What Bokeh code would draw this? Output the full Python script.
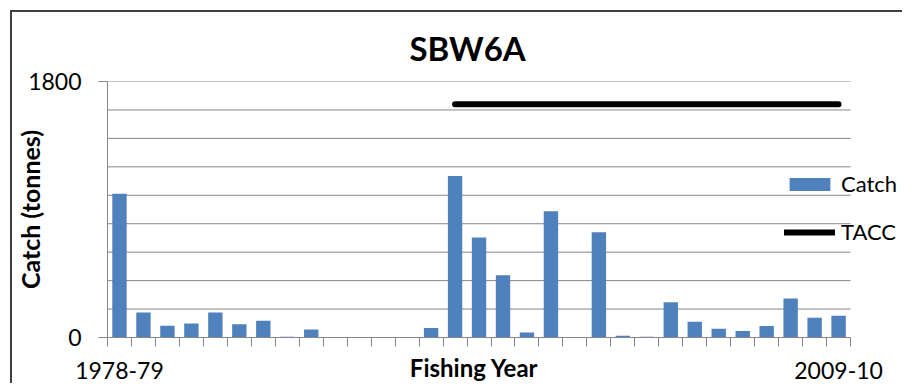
import numpy as np
from bokeh.plotting import figure
from bokeh.models import Range1d, FixedTicker, Legend, LegendItem
from bokeh.embed import file_html
from bokeh.resources import INLINE

# ---- data ----
years = ["1978-79", "1980-81", "1981-82", "1982-83", "1983-84", "1984-85", "1985-86",
         "1986-87", "1987-88", "1988-89", "1989-90", "1990-91", "1991-92", "1992-93",
         "1993-94", "1994-95", "1995-96", "1996-97", "1997-98", "1998-99", "1999-00",
         "2000-01", "2001-02", "2002-03", "2003-04", "2004-05", "2005-06", "2006-07",
         "2007-08", "2008-09", "2009-10"]
catch = [1010, 176, 82, 99, 176, 94, 117, 5, 56, 0, 0, 0, 0, 66,
         1135, 703, 437, 35, 888, 0, 740, 12, 5, 247, 110, 61, 45, 80, 275, 139, 153]
tacc = [np.nan] * 14 + [1640] * 17
grid_values = [200, 400, 600, 800, 1000, 1200, 1400, 1600, 1800]
y_ticks = [0, 1800]
x_label_idx = [0, len(years) - 1]

FONT = "Lato"
GRAY = "#868686"

n = len(years)
xs = list(range(n))

p = figure(width=892, height=373, output_backend="svg", toolbar_location=None,
           x_range=Range1d(-0.5, n - 0.5 + 2.25), y_range=Range1d(0, 1800),
           min_border_left=94, min_border_right=0, min_border_top=69, min_border_bottom=48)
p.styles = {"margin-left": "10px", "margin-top": "10px",
            "border-left": "2px solid #404040", "border-top": "2px solid #404040"}
p.outline_line_color = None
p.background_fill_color = "white"
p.border_fill_color = "white"

p.title.text = "SBW6A"
p.title.text_font = FONT
p.title.text_font_style = "bold"
p.title.text_font_size = "33px"
p.title.align = "left"
p.title.offset = 302
p.title.vertical_align = "middle"
p.title.standoff = 25
p.title.text_color = "black"

# horizontal gridlines limited to the category span
p.segment(x0=-0.5, x1=n - 0.5, y0=grid_values, y1=grid_values, line_color=GRAY, line_width=1)
p.xgrid.grid_line_color = None
p.ygrid.grid_line_color = None

bars = p.vbar(x=xs, top=catch, width=0.6, fill_color="#4F81BD", line_color=None)
tline = p.line(x=xs, y=tacc, line_width=6, line_color="black", line_cap="round")

# y axis
p.yaxis.ticker = FixedTicker(ticks=y_ticks)
p.yaxis.axis_line_color = GRAY
p.yaxis.major_tick_line_color = GRAY
p.yaxis.major_tick_out = 9
p.yaxis.major_tick_in = 0
p.yaxis.minor_tick_line_color = None
p.yaxis.major_label_standoff = 17
p.yaxis.major_label_text_font = FONT
p.yaxis.major_label_text_font_size = "23px"
p.yaxis.major_label_text_color = "black"
p.yaxis.axis_label = "Catch (tonnes)"
p.yaxis.axis_label_text_font = FONT
p.yaxis.axis_label_text_font_style = "bold"
p.yaxis.axis_label_text_font_size = "25px"
p.yaxis.axis_label_text_color = "black"
p.yaxis.axis_label_standoff = -20

# x axis
bounds = list(np.arange(n + 1) - 0.5)
p.xaxis.bounds = (-0.5, n - 0.5)
p.xaxis.ticker = FixedTicker(ticks=x_label_idx, minor_ticks=bounds)
p.xaxis.major_label_overrides = {i: years[i] for i in x_label_idx}
p.xaxis.axis_line_color = GRAY
p.xaxis.major_tick_line_color = None
p.xaxis.major_tick_out = 0
p.xaxis.major_tick_in = 0
p.xaxis.minor_tick_line_color = GRAY
p.xaxis.minor_tick_out = 9
p.xaxis.minor_tick_in = 0
p.xaxis.major_label_standoff = 15
p.xaxis.major_label_text_font = FONT
p.xaxis.major_label_text_font_size = "23px"
p.xaxis.major_label_text_color = "black"
# trailing no-break spaces shift the centred label over the category span
p.xaxis.axis_label = "Fishing Year" + "\u00a0" * 11
p.xaxis.axis_label_text_font = FONT
p.xaxis.axis_label_text_font_style = "bold"
p.xaxis.axis_label_text_font_size = "24px"
p.xaxis.axis_label_text_color = "black"
p.xaxis.axis_label_standoff = -29

legend = Legend(items=[LegendItem(label="Catch", renderers=[bars]),
                       LegendItem(label="TACC", renderers=[tline])],
                location=(677, 92), glyph_width=51, glyph_height=16, spacing=21,
                label_standoff=6, padding=0, margin=0, border_line_color=None,
                background_fill_alpha=0, label_text_font=FONT, label_text_font_size="22px",
                label_text_color="black")
p.add_layout(legend)

open("out.html", "w").write(file_html(p, INLINE))
